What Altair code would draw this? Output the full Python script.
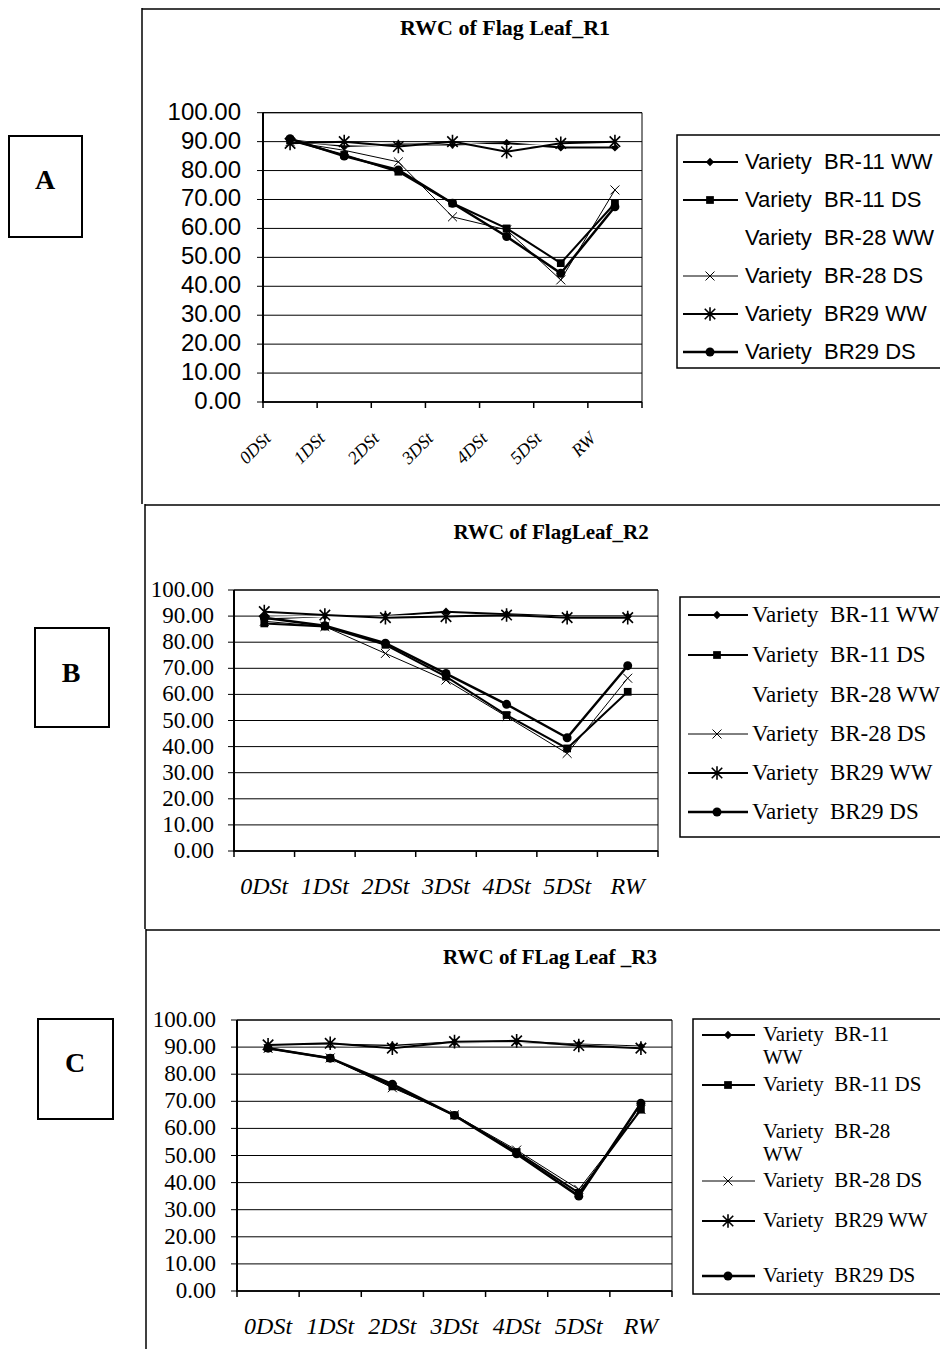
import altair as alt
import pandas as pd

# ---------------- data ----------------
stages = ["0DSt", "1DSt", "2DSt", "3DSt", "4DSt", "5DSt", "RW"]
series_names = [
    "Variety\u00a0\u00a0BR-11 WW",
    "Variety\u00a0\u00a0BR-11 DS",
    "Variety\u00a0\u00a0BR-28 WW",
    "Variety\u00a0\u00a0BR-28 DS",
    "Variety\u00a0\u00a0BR29 WW",
    "Variety\u00a0\u00a0BR29 DS",
]
y_ticks = [0, 10, 20, 30, 40, 50, 60, 70, 80, 90, 100]

# Panel A : RWC of Flag Leaf_R1
r1_br11_ww = [90.5, 88.5, 89.0, 89.0, 89.5, 88.0, 88.0]
r1_br11_ds = [90.5, 85.4, 79.6, 68.7, 60.0, 48.0, 68.7]
r1_br28_ww = [90.0, 89.0, 88.6, 89.5, 88.6, 88.8, 88.8]
r1_br28_ds = [90.0, 87.0, 83.0, 64.0, 59.5, 42.2, 73.3]
r1_br29_ww = [89.4, 90.0, 88.3, 90.0, 86.5, 89.4, 90.0]
r1_br29_ds = [91.0, 85.0, 80.2, 68.7, 57.2, 44.5, 67.5]

# Panel B : RWC of FlagLeaf_R2
r2_br11_ww = [89.0, 90.0, 90.0, 91.7, 90.7, 89.8, 89.8]
r2_br11_ds = [87.2, 86.0, 79.0, 66.8, 52.1, 39.3, 61.0]
r2_br28_ww = [89.5, 90.0, 89.8, 90.5, 90.3, 89.6, 89.6]
r2_br28_ds = [88.0, 86.0, 75.7, 65.5, 51.5, 37.4, 66.2]
r2_br29_ww = [91.7, 90.4, 89.4, 89.8, 90.4, 89.4, 89.4]
r2_br29_ds = [89.4, 86.3, 79.6, 68.0, 56.2, 43.4, 71.0]

# Panel C : RWC of FLag Leaf _R3
r3_br11_ww = [90.5, 91.0, 90.5, 91.8, 92.0, 91.0, 90.2]
r3_br11_ds = [89.6, 85.9, 75.5, 64.8, 51.3, 36.2, 66.9]
r3_br28_ww = [90.4, 90.8, 90.0, 91.6, 91.9, 90.8, 89.9]
r3_br28_ds = [89.5, 86.0, 75.0, 65.0, 52.0, 37.5, 67.0]
r3_br29_ww = [90.8, 91.4, 89.6, 92.0, 92.3, 90.6, 89.6]
r3_br29_ds = [89.6, 85.9, 76.3, 64.8, 50.6, 35.0, 69.3]

panel_values = [
    [r1_br11_ww, r1_br11_ds, r1_br28_ww, r1_br28_ds, r1_br29_ww, r1_br29_ds],
    [r2_br11_ww, r2_br11_ds, r2_br28_ww, r2_br28_ds, r2_br29_ww, r2_br29_ds],
    [r3_br11_ww, r3_br11_ds, r3_br28_ww, r3_br28_ds, r3_br29_ww, r3_br29_ds],
]
titles = ["RWC of Flag Leaf_R1", "RWC of FlagLeaf_R2", "RWC of  FLag Leaf _R3"]
letters = ["A", "B", "C"]

# legend labels (panel C wraps two of them)
legend_lines = [
    [[s] for s in series_names],
    [[s] for s in series_names],
    [["Variety\u00a0\u00a0BR-11", "WW"], ["Variety\u00a0\u00a0BR-11 DS"],
     ["Variety\u00a0\u00a0BR-28", "WW"], ["Variety\u00a0\u00a0BR-28 DS"],
     ["Variety\u00a0\u00a0BR29 WW"], ["Variety\u00a0\u00a0BR29 DS"]],
]

# ---------------- styles / layout ----------------
XPATH = "M-1,-1L1,1M-1,1L1,-1"
STAR = "M-1,-1L1,1M-1,1L1,-1M0,-1.3L0,1.3"
STYLES = [
    dict(color="black", width=2, shape="diamond", filled=True, size=70, sw=1),
    dict(color="black", width=2, shape="square", filled=True, size=60, sw=1),
    dict(color="white", width=1.5, shape=None),
    dict(color="black", width=1, shape=XPATH, filled=False, size=80, sw=1),
    dict(color="black", width=2, shape=STAR, filled=False, size=110, sw=1.6),
    dict(color="black", width=2.5, shape="circle", filled=True, size=80, sw=1),
]

W = 932
SANS = "Liberation Sans"
SERIF = "Liberation Serif"

LAYOUT = [
    dict(h=496, px=(255, 634), py=(394, 104.7), ylab_x=233, ylab_font=SANS, ylab_size=24,
         xlab_y=428, xlab_angle=315, xlab_bp=0.1, xlab_size=18,
         title_xy=(497, 20), title_size=22, box=(669, 127, 945, 360),
         rows=[154, 192, 230, 268, 306, 344], sample=(675, 730), marker_x=702, text_x=737,
         leg_font=SANS, leg_size=22, line_h=18,
         lbox=(0, 128, 74, 229), letter_xy=(37, 173), frame_x=134),
    dict(h=425, px=(226, 650), py=(347, 86), ylab_x=206, ylab_font=SERIF, ylab_size=23,
         xlab_y=383, xlab_angle=0, xlab_bp=0.5, xlab_size=24,
         title_xy=(543, 29), title_size=21, box=(672, 93, 960, 333),
         rows=[111, 151, 191, 230, 269, 308], sample=(680, 740), marker_x=709, text_x=744,
         leg_font=SERIF, leg_size=23, line_h=18,
         lbox=(26, 124, 101, 223), letter_xy=(63, 170), frame_x=137),
    dict(h=420, px=(229, 664), py=(362, 91), ylab_x=208, ylab_font=SERIF, ylab_size=23,
         xlab_y=398, xlab_angle=0, xlab_bp=0.5, xlab_size=24,
         title_xy=(542, 29), title_size=21, box=(685, 90, 960, 365),
         rows=[106, 156, 203, 252, 292, 347], sample=(694, 747), marker_x=720, text_x=755,
         leg_font=SERIF, leg_size=21, line_h=23,
         lbox=(29, 90, 105, 190), letter_xy=(67, 135), frame_x=138),
]

ONE = alt.Data(values=[{}])


def point_mark(st):
    if st["filled"]:
        return dict(shape=st["shape"], filled=True, color=st["color"], size=st["size"], opacity=1)
    return dict(shape=st["shape"], filled=False, color=st["color"], size=st["size"],
                strokeWidth=st["sw"], opacity=1)


def make_panel(k):
    L = LAYOUT[k]
    vals = panel_values[k]
    px0, px1 = L["px"]
    yb, yt = L["py"]
    H = L["h"]
    xs = alt.Scale(type="band", domain=stages, range=[px0, px1], paddingInner=0, paddingOuter=0)
    ys = alt.Scale(domain=[0, 100], range=[yb, yt], nice=False, zero=False)

    def X(bp):
        return alt.X("stage:N", scale=xs, sort=stages, axis=None, bandPosition=bp)

    Y = alt.Y("value:Q", scale=ys, axis=None)
    tick_df = pd.DataFrame({"value": y_ticks})
    stage_df = pd.DataFrame({"stage": stages})
    layers = []

    # panel frame (left + top)
    layers.append(alt.Chart(ONE).mark_rule(color="black", strokeWidth=1.5, clip=True).encode(
        x=alt.value(L["frame_x"]), y=alt.value(0), y2=alt.value(H)))
    layers.append(alt.Chart(ONE).mark_rule(color="black", strokeWidth=1.5, clip=True).encode(
        x=alt.value(L["frame_x"]), x2=alt.value(W), y=alt.value(1)))

    # letter box
    bx0, by0, bx1, by1 = L["lbox"]
    layers.append(alt.Chart(ONE).mark_rect(fill="white", stroke="black", strokeWidth=2,
                                           clip=True).encode(
        x=alt.value(bx0 + 1), x2=alt.value(bx1), y=alt.value(by0), y2=alt.value(by1)))
    layers.append(alt.Chart(ONE).mark_text(font=SERIF, fontWeight="bold", fontSize=28,
                                           align="center", baseline="middle").encode(
        x=alt.value(L["letter_xy"][0]), y=alt.value(L["letter_xy"][1]), text=alt.value(letters[k])))

    # title
    layers.append(alt.Chart(ONE).mark_text(font=SERIF, fontWeight="bold", fontSize=L["title_size"],
                                           align="center", baseline="middle").encode(
        x=alt.value(L["title_xy"][0]), y=alt.value(L["title_xy"][1]), text=alt.value(titles[k])))

    # gridlines
    layers.append(alt.Chart(tick_df).mark_rule(color="black", strokeWidth=1).encode(
        y=Y, x=alt.value(px0), x2=alt.value(px1)))
    # y ticks
    layers.append(alt.Chart(tick_df).mark_rule(color="black", strokeWidth=1).encode(
        y=Y, x=alt.value(px0 - 6), x2=alt.value(px0)))
    # plot border
    layers.append(alt.Chart(ONE).mark_rect(fill="white", fillOpacity=0, stroke="black",
                                           strokeWidth=1).encode(
        x=alt.value(px0), x2=alt.value(px1), y=alt.value(yt), y2=alt.value(yb)))
    # y axis line
    layers.append(alt.Chart(ONE).mark_rule(color="black", strokeWidth=2).encode(
        x=alt.value(px0), y=alt.value(yt), y2=alt.value(yb + 1)))
    # x axis line
    layers.append(alt.Chart(ONE).mark_rule(color="black", strokeWidth=1.5).encode(
        x=alt.value(px0), x2=alt.value(px1), y=alt.value(yb)))
    # x ticks at band boundaries
    layers.append(alt.Chart(stage_df).mark_rule(color="black", strokeWidth=1.5).encode(
        x=X(0), y=alt.value(yb), y2=alt.value(yb + 6)))
    layers.append(alt.Chart(ONE).mark_rule(color="black", strokeWidth=1.5).encode(
        x=alt.value(px1), y=alt.value(yb), y2=alt.value(yb + 6)))

    # y labels
    layers.append(alt.Chart(tick_df).mark_text(font=L["ylab_font"], fontSize=L["ylab_size"],
                                               align="right", baseline="middle").encode(
        y=Y, x=alt.value(L["ylab_x"]), text=alt.Text("value:Q", format=".2f")))

    # x labels
    if L["xlab_angle"]:
        xl = alt.Chart(stage_df).mark_text(font=SERIF, fontStyle="italic", fontSize=L["xlab_size"],
                                           align="right", baseline="middle",
                                           angle=L["xlab_angle"]).encode(
            x=X(L["xlab_bp"]), y=alt.value(L["xlab_y"]), text="stage:N")
    else:
        xl = alt.Chart(stage_df).mark_text(font=SERIF, fontStyle="italic", fontSize=L["xlab_size"],
                                           align="center", baseline="middle").encode(
            x=X(L["xlab_bp"]), y=alt.value(L["xlab_y"]), text="stage:N")
    layers.append(xl)

    # series
    for i, name in enumerate(series_names):
        st = STYLES[i]
        df = pd.DataFrame({"stage": stages, "value": vals[i]})
        layers.append(alt.Chart(df).mark_line(color=st["color"], strokeWidth=st["width"]).encode(
            x=X(0.5), y=Y))
        if st["shape"]:
            layers.append(alt.Chart(df).mark_point(**point_mark(st)).encode(x=X(0.5), y=Y))

    # legend
    lx0, ly0, lx1, ly1 = L["box"]
    layers.append(alt.Chart(ONE).mark_rect(fill="white", stroke="black", strokeWidth=1.5,
                                           clip=True).encode(
        x=alt.value(lx0), x2=alt.value(lx1), y=alt.value(ly0), y2=alt.value(ly1)))
    for i, name in enumerate(series_names):
        st = STYLES[i]
        ry = L["rows"][i]
        layers.append(alt.Chart(ONE).mark_rule(color=st["color"], strokeWidth=st["width"]).encode(
            x=alt.value(L["sample"][0]), x2=alt.value(L["sample"][1]), y=alt.value(ry)))
        if st["shape"]:
            layers.append(alt.Chart(ONE).mark_point(**point_mark(st)).encode(
                x=alt.value(L["marker_x"]), y=alt.value(ry)))
        for j, line in enumerate(legend_lines[k][i]):
            layers.append(alt.Chart(ONE).mark_text(font=L["leg_font"], fontSize=L["leg_size"],
                                                   align="left", baseline="middle",
                                                   clip=True).encode(
                x=alt.value(L["text_x"]), y=alt.value(ry + j * L["line_h"]), text=alt.value(line)))

    return alt.layer(*layers).properties(width=W, height=H)


chart = alt.vconcat(make_panel(0), make_panel(1), make_panel(2), spacing=0).properties(
    padding=0, background="white"
).configure_view(stroke="transparent", strokeWidth=0)

chart.save("out.html", embed_options={"renderer": "svg", "actions": False})
